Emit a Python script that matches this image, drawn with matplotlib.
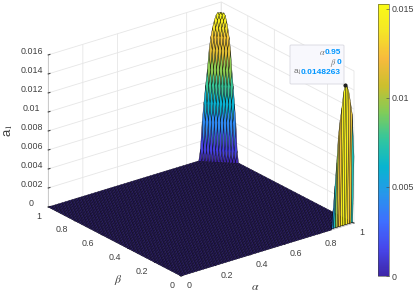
import numpy as np
import matplotlib
matplotlib.use("Agg")
import matplotlib.pyplot as plt
from matplotlib.colors import LinearSegmentedColormap, Normalize
from matplotlib.cm import ScalarMappable
from matplotlib.patches import FancyBboxPatch
from matplotlib.text import Text
from mpl_toolkits.mplot3d import proj3d

W, H = 415, 291
plt.rcParams['font.family'] = ['Liberation Sans', 'DejaVu Sans']
plt.rcParams['mathtext.fontset'] = 'stix'
TXT = '#404040'

# grid (alpha stored from 1 down to 0)
n_cells = 100
alpha_grid = np.arange(n_cells, -1, -1) / n_cells
beta_grid = np.arange(0, n_cells + 1) / n_cells

# fin at beta = 0, from alpha = 1 downwards in steps of one cell
fin_values = [0.0070, 0.0115, 0.0128, 0.0140, 0.0146, 0.0148263, 0.0141, 0.0125,
              0.0113, 0.0097, 0.0069, 0.0045, 0.0022, 0.0]

# dome in the corner alpha = 1, beta = 1: height by number of cells away from the corner
dome_profile = [0.0146, 0.0149, 0.0150, 0.0148, 0.0143, 0.0136, 0.0127,
                0.0114, 0.0094, 0.0078, 0.0060, 0.0041, 0.0012, 0.0]

alpha_ticks = [0, 0.2, 0.4, 0.6, 0.8, 1]
beta_ticks = [0, 0.2, 0.4, 0.6, 0.8, 1]
z_ticks = [0, 0.002, 0.004, 0.006, 0.008, 0.01, 0.012, 0.014, 0.016]
z_labels = ['0', '0.002', '0.004', '0.006', '0.008', '0.01', '0.012', '0.014', '0.016']
cbar_ticks = [0, 0.005, 0.01, 0.015]
cbar_labels = ['0', '0.005', '0.01', '0.015']
color_max = 0.0153
tip_alpha, tip_beta, tip_value = 0.95, 0, 0.0148263

parula = LinearSegmentedColormap.from_list('parula', [
    (0.2422, 0.1504, 0.6603), (0.2803, 0.2782, 0.9221), (0.2440, 0.4358, 0.9988),
    (0.1540, 0.5902, 0.9218), (0.0297, 0.7082, 0.8163), (0.1938, 0.7758, 0.6251),
    (0.5044, 0.7993, 0.3480), (0.80, 0.75, 0.18), (0.97, 0.73, 0.24),
    (0.96, 0.90, 0.15), (0.9769, 0.9839, 0.0805)])
norm = Normalize(0, color_max)

Z = np.zeros((n_cells + 1, n_cells + 1))
Z[0, :len(fin_values)] = fin_values
for i in range(len(dome_profile)):
    for j in range(len(dome_profile) - i):
        Z[n_cells - j, i] = dome_profile[i + j]
X, Y = np.meshgrid(alpha_grid, beta_grid)

fig = plt.figure(figsize=(W / 100, H / 100), dpi=100)
ax = fig.add_axes([0, 0, 1, 1], projection='3d', proj_type='ortho', computed_zorder=False)
ax.patch.set_alpha(0)
ax.view_init(elev=23.5, azim=-127.5)
ax.set_box_aspect((218, 218, 165.8))
ax.set_xlim(0, 1, view_margin=0)
ax.set_ylim(0, 1, view_margin=0)
ax.set_zlim(0, 0.016, view_margin=0)

surf = ax.plot_surface(X, Y, Z, rstride=1, cstride=1, facecolors=parula(norm(Z)),
                       shade=False, antialiased=True, zorder=2)
surf.set_edgecolor('black')
surf.set_linewidth(0.25)
ax.scatter([tip_alpha], [tip_beta], [tip_value], s=4, c='#202020', depthshade=False, zorder=3)

ax.set_xticks(alpha_ticks)
ax.set_xticklabels([f'{t:g}' for t in alpha_ticks], ha='left', va='center_baseline')
ax.set_yticks(beta_ticks)
ax.set_yticklabels([f'{t:g}' for t in beta_ticks], ha='right', va='center_baseline')
ax.set_zticks(z_ticks)
ax.set_zticklabels(z_labels, va='baseline')
ax.tick_params(labelsize=6.4, colors=TXT, length=2, width=0.4)
ax.tick_params(axis='x', pad=-3)
ax.tick_params(axis='y', pad=-3)
ax.tick_params(axis='z', pad=-1)
grid_rgba = (0.9, 0.9, 0.9, 1)
none_rgba = (1, 1, 1, 0)
for axis in (ax.xaxis, ax.yaxis, ax.zaxis):
    axis.set_pane_color((1, 1, 1, 0))
    axis.pane.set_edgecolor((0.9, 0.9, 0.9, 1))
    axis.line.set_color('#b0b0b0')
    axis.line.set_linewidth(0.4)
    axis._axinfo['grid'].update(color=grid_rgba, linewidth=0.6)
    axis._axinfo['tick'].update(inward_factor=0.0, outward_factor=0.12)
    axis.set_rotate_label(False)
# the reference shows no wall line at alpha = 0.6 and beta = 0.4
ax.xaxis._axinfo['grid']['color'] = [none_rgba if t == 0.6 else grid_rgba for t in alpha_ticks]
ax.yaxis._axinfo['grid']['color'] = [none_rgba if t == 0.4 else grid_rgba for t in beta_ticks]

ax.set_xlabel(r'$\alpha$', fontsize=8.5, color=TXT)
ax.set_ylabel(r'$\beta$', fontsize=8.5, color=TXT)
ax.set_zlabel('a$_1$', fontsize=9.5, color=TXT, rotation=90)


def pin_label(label, px, py):
    label.set_position = lambda xy: Text.set_position(
        label, ax.transData.inverted().transform((px, H - py)))


pin_label(ax.xaxis.label, 255, 287)
pin_label(ax.yaxis.label, 118, 280)
pin_label(ax.zaxis.label, 9, 130)


# place the axes so the floor sits where the reference has it
def screen(S, px, py):
    ax.set_position([px / W, py / H, S / W, S / H])
    ax.apply_aspect()
    x, y, _ = proj3d.proj_transform(np.array([0., 1.]), np.array([0., 0.]), np.array([0., 0.]), ax.get_proj())
    return ax.transData.transform(np.column_stack([x, y]))


p = screen(300, 0, 0)
S = 300 * 173.0 / (p[1, 0] - p[0, 0])
p = screen(S, 0, 0)
screen(S, 181 - p[0, 0], (H - 276) - p[0, 1])

# colour bar
cax = fig.add_axes([378 / W, (H - 276) / H, 10.5 / W, 272.5 / H])
cb = fig.colorbar(ScalarMappable(norm=norm, cmap=parula), cax=cax)
cb.set_ticks(cbar_ticks)
cb.set_ticklabels(cbar_labels)
cb.ax.tick_params(labelsize=6.4, colors=TXT, length=2, width=0.4, direction='in', pad=2)
cb.outline.set_edgecolor('#404040')
cb.outline.set_linewidth(0.4)

# data tip
tip = FancyBboxPatch((290 / W, (H - 84) / H), 54 / W, 39 / H, transform=fig.transFigure,
                     boxstyle='round,pad=0,rounding_size=0.003', fc='#f8f8fd', ec='#d8d8e0',
                     lw=0.6, zorder=5)
fig.add_artist(tip)
rows = [(r'$\alpha$', '0.95', 53, 319), (r'$\beta$', '0', 63, 330), ('a$_1$', '0.0148263', 72.5, 293)]
for label, value, y, lx in rows:
    fig.text(lx / W, (H - y) / H, label, fontsize=6, color='#707070', va='center', ha='left', zorder=6)
    fig.text(341 / W, (H - y) / H, value, fontsize=6, color='#0096ff', va='center', ha='right',
             fontweight='bold', zorder=6)

fig.savefig('out.png', dpi=100)
